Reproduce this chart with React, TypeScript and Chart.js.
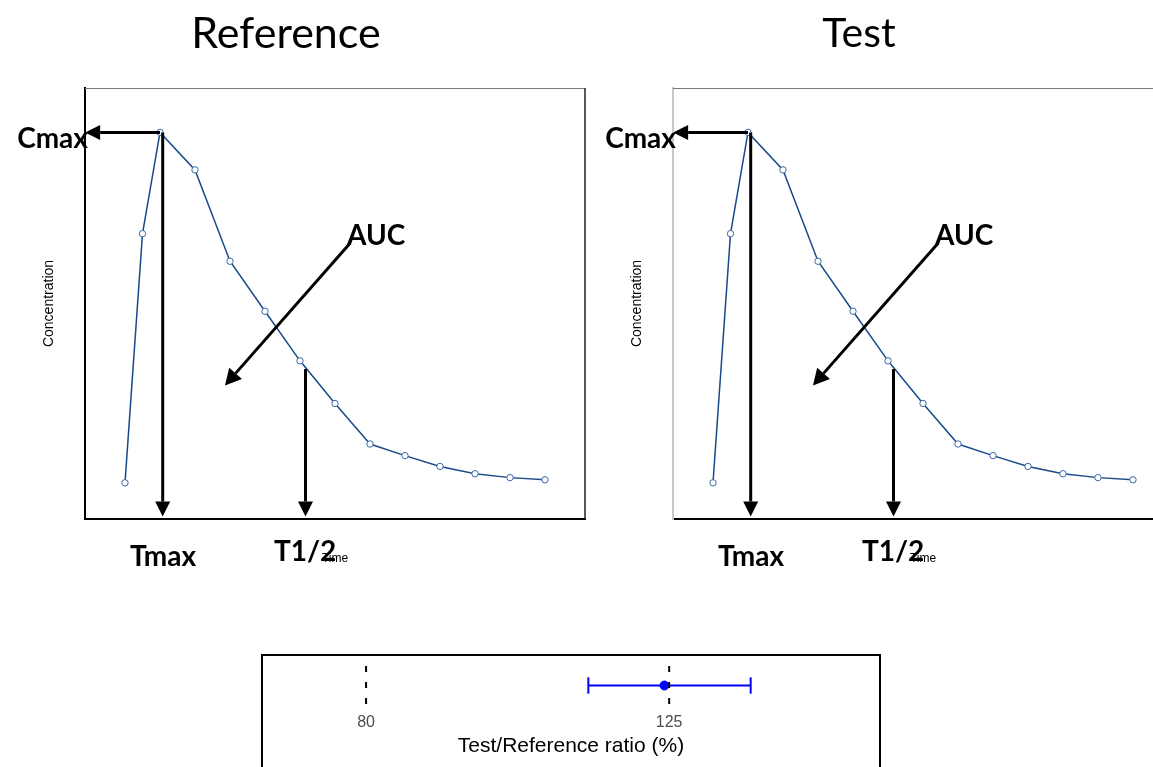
import React, { useEffect, useRef } from "react";
import { Chart, registerables } from "chart.js";

Chart.register(...registerables);

// ---- Concentration-time profile data ----
const times = [0, 0.5, 1, 2, 3, 4, 5, 6, 7, 8, 9, 10, 11, 12];
const referenceConc = [8.4, 66.2, 89.7, 81.0, 59.8, 48.2, 36.7, 26.8, 17.4, 14.7, 12.2, 10.5, 9.6, 9.1];
const testConc = [8.4, 66.2, 89.7, 81.0, 59.8, 48.2, 36.7, 26.8, 17.4, 14.7, 12.2, 10.5, 9.6, 9.1];
const timeMin = -1.143;
const timeMax = 13.143;
const concMin = 0;
const concMax = 100;

// ---- Annotation arrows (time, concentration) ----
const arrowNames = ["Cmax", "Tmax", "T1/2", "AUC"];
const arrowFrom = [[1, 89.7], [1.077, 89.7], [5.157, 34.8], [6.43, 64.0]];
const arrowTo = [[-1.14, 89.7], [1.077, 0.6], [5.157, 0.6], [2.857, 31.0]];
const labelAnchor = [[-1.06, 86.1], [1.086, -11.0], [4.257, -9.84], [6.343, 63.6]];
const labelAlign = ["right", "center", "left", "left"];

// ---- Test/Reference ratio data ----
const ratioTicks = [80, 125];
const ratioEstimate = 124.3;
const ratioLower = 113.0;
const ratioUpper = 137.1;
const ratioMin = 64.55;
const ratioMax = 156.3;

function drawArrow(ctx: CanvasRenderingContext2D, x1: number, y1: number, x2: number, y2: number, w: number, hl: number, hh: number) {
  const a = Math.atan2(y2 - y1, x2 - x1);
  const bx = x2 - hl * Math.cos(a);
  const by = y2 - hl * Math.sin(a);
  ctx.lineWidth = w;
  ctx.beginPath();
  ctx.moveTo(x1, y1);
  ctx.lineTo(bx, by);
  ctx.stroke();
  ctx.beginPath();
  ctx.moveTo(x2, y2);
  ctx.lineTo(bx + hh * Math.sin(a), by - hh * Math.cos(a));
  ctx.lineTo(bx - hh * Math.sin(a), by + hh * Math.cos(a));
  ctx.closePath();
  ctx.fill();
}

function pkConfig(title: string, titleX: number, titleBaseline: number, titleSize: number, conc: number[], leftBorder: string): any {
  const decor = {
    id: "pkDecor",
    beforeDatasetsDraw(chart: any) {
      const { ctx, chartArea } = chart;
      ctx.save();
      ctx.strokeStyle = "#7a7a7a";
      ctx.lineWidth = 1;
      ctx.beginPath();
      ctx.moveTo(chartArea.left, chartArea.top + 0.5);
      ctx.lineTo(chartArea.right, chartArea.top + 0.5);
      ctx.stroke();
      ctx.strokeStyle = "#222";
      ctx.lineWidth = 1.5;
      ctx.beginPath();
      ctx.moveTo(chartArea.right, chartArea.top);
      ctx.lineTo(chartArea.right, chartArea.bottom);
      ctx.stroke();
      ctx.restore();
    },
    afterDatasetsDraw(chart: any) {
      const { ctx } = chart;
      const xs = chart.scales.x;
      const ys = chart.scales.y;
      ctx.save();
      ctx.strokeStyle = "#000";
      ctx.fillStyle = "#000";
      for (let i = 0; i < arrowNames.length; i++) {
        const x1 = xs.getPixelForValue(arrowFrom[i][0]);
        const y1 = ys.getPixelForValue(arrowFrom[i][1]);
        const x2 = xs.getPixelForValue(arrowTo[i][0]);
        const y2 = ys.getPixelForValue(arrowTo[i][1]);
        const big = arrowNames[i] === "AUC";
        drawArrow(ctx, x1, y1, x2, y2, 3, big ? 16 : 15, big ? 8.5 : 7.5);
      }
      ctx.font = "bold 28px Lato, 'Open Sans', sans-serif";
      ctx.textBaseline = "alphabetic";
      for (let i = 0; i < arrowNames.length; i++) {
        ctx.textAlign = labelAlign[i] as CanvasTextAlign;
        ctx.fillText(arrowNames[i], xs.getPixelForValue(labelAnchor[i][0]), ys.getPixelForValue(labelAnchor[i][1]));
      }
      ctx.font = `${titleSize}px Lato, 'Open Sans', sans-serif`;
      ctx.textAlign = "center";
      ctx.fillText(title, titleX, titleBaseline);
      ctx.restore();
    },
  };
  return {
    type: "line",
    data: {
      datasets: [
        {
          label: title,
          data: times.map((t, i) => ({ x: t, y: conc[i] })),
          borderColor: "#184a8a",
          borderWidth: 1.5,
          pointRadius: 3.2,
          pointBackgroundColor: "#ffffff",
          pointBorderColor: "#3a68a8",
          pointBorderWidth: 1,
          tension: 0,
          clip: false,
        },
      ],
    },
    options: {
      animation: false,
      responsive: false,
      events: [],
      layout: { padding: { left: 0, right: 15, top: 88, bottom: 21 } },
      plugins: { legend: { display: false }, tooltip: { enabled: false }, title: { display: false } },
      scales: {
        x: {
          type: "linear",
          min: timeMin,
          max: timeMax,
          grid: { display: false },
          ticks: { display: false },
          border: { display: true, color: "#000", width: 2 },
          title: {
            display: true,
            text: "Time",
            color: "#000",
            font: { family: "'Liberation Sans', Arial, sans-serif", size: 12 },
            padding: { top: 0, bottom: 12.8 },
          },
          afterFit(s: any) {
            s.height = 60;
          },
        },
        y: {
          type: "linear",
          min: concMin,
          max: concMax,
          grid: { display: false },
          ticks: { display: false },
          border: { display: true, color: leftBorder, width: 2 },
          title: {
            display: true,
            text: "Concentration",
            color: "#000",
            font: { family: "'Liberation Sans', Arial, sans-serif", size: 14 },
            padding: { top: 41, bottom: 0 },
          },
          afterFit(s: any) {
            s.width = 85;
          },
        },
      },
    },
    plugins: [decor],
  };
}

function ratioConfig(): any {
  const box = {
    id: "outerBox",
    beforeDraw(chart: any) {
      const { ctx, chartArea } = chart;
      ctx.save();
      ctx.strokeStyle = "#000";
      ctx.lineWidth = 2;
      ctx.strokeRect(chartArea.left, chartArea.top - 11, chartArea.right - chartArea.left, 400);
      ctx.restore();
    },
  };
  const refLines = ratioTicks.map((v) => ({
    type: "line",
    data: [{ x: v, y: 1 }, { x: v, y: -1 }],
    borderColor: "#000",
    borderWidth: 2,
    borderDash: [6, 10],
    pointRadius: 0,
    clip: false,
  }));
  const blue = "#0000ff";
  return {
    type: "line",
    data: {
      datasets: [
        ...refLines,
        { type: "line", data: [{ x: ratioLower, y: 0 }, { x: ratioUpper, y: 0 }], borderColor: blue, borderWidth: 2, pointRadius: 0, clip: false },
        { type: "line", data: [{ x: ratioLower, y: -0.42 }, { x: ratioLower, y: 0.42 }], borderColor: blue, borderWidth: 2, pointRadius: 0, clip: false },
        { type: "line", data: [{ x: ratioUpper, y: -0.42 }, { x: ratioUpper, y: 0.42 }], borderColor: blue, borderWidth: 2, pointRadius: 0, clip: false },
        { type: "scatter", data: [{ x: ratioEstimate, y: 0 }], pointRadius: 4.5, pointBackgroundColor: blue, pointBorderColor: blue, clip: false },
      ],
    },
    options: {
      animation: false,
      responsive: false,
      events: [],
      layout: { padding: { left: 12, right: 20, top: 26, bottom: 75 } },
      plugins: { legend: { display: false }, tooltip: { enabled: false } },
      scales: {
        x: {
          type: "linear",
          min: ratioMin,
          max: ratioMax,
          grid: { display: false, drawTicks: false },
          border: { display: false },
          afterBuildTicks(s: any) {
            s.ticks = ratioTicks.map((v) => ({ value: v }));
          },
          ticks: {
            color: "#4d4d4d",
            padding: 8,
            font: { family: "'Liberation Sans', Arial, sans-serif", size: 16 },
            callback: (v: any) => String(v),
          },
          title: {
            display: true,
            text: "Test/Reference ratio (%)",
            color: "#000",
            font: { family: "'Liberation Sans', Arial, sans-serif", size: 21 },
            padding: { top: 0, bottom: 6 },
          },
          afterFit(s: any) {
            s.height = 60;
          },
        },
        y: { type: "linear", min: -1, max: 1, display: false },
      },
    },
    plugins: [box],
  };
}

function ChartCanvas({ config, left, top, width, height }: { config: () => any; left: number; top: number; width: number; height: number }) {
  const ref = useRef<HTMLCanvasElement | null>(null);
  useEffect(() => {
    if (!ref.current) return;
    const chart = new Chart(ref.current, config());
    return () => chart.destroy();
  }, []);
  return (
    <canvas
      ref={ref}
      width={width}
      height={height}
      style={{ position: "absolute", left, top, width, height, display: "block" }}
    />
  );
}

export default function App() {
  return (
    <div style={{ position: "fixed", left: 0, top: 0, width: 1153, height: 767, overflow: "hidden", background: "#fff" }}>
      <ChartCanvas config={() => pkConfig("Reference", 286, 48, 43, referenceConc, "#000")} left={0} top={0} width={600} height={600} />
      <ChartCanvas config={() => pkConfig("Test", 271, 47, 41, testConc, "#c8c8c8")} left={588} top={0} width={600} height={600} />
      <ChartCanvas config={ratioConfig} left={250} top={640} width={650} height={200} />
    </div>
  );
}
